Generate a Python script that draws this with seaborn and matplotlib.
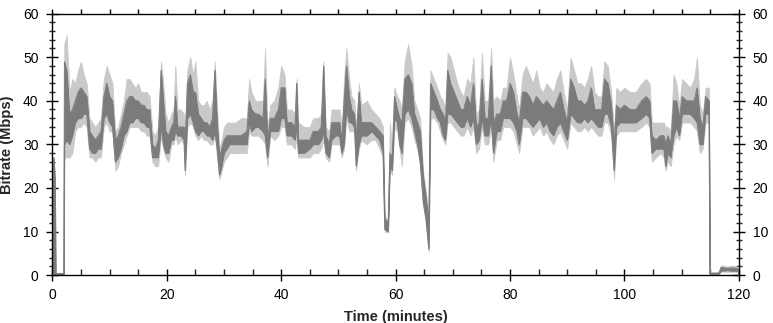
import numpy as np
import pandas as pd
import matplotlib
matplotlib.use("Agg")
import matplotlib.pyplot as plt
from matplotlib.ticker import MultipleLocator, NullFormatter
import seaborn as sns

# time in minutes and band limits (Mbps)
t = [0.0, 0.25, 0.45, 0.6, 2.0, 2.1, 2.5, 3.0, 3.5, 4.0, 4.5, 5.0, 5.5, 6.0, 6.5, 7.0, 7.5, 8.0, 8.5,
     9.0, 9.5, 10.0, 10.5, 11.0, 11.5, 12.0, 12.5, 13.0, 13.5, 14.0, 14.5, 15.0, 15.5, 16.0, 16.5,
     17.0, 17.5, 18.0, 18.5, 19.0, 19.4, 19.8, 20.3, 20.8, 21.2, 21.5, 21.9, 22.5, 23.0, 23.2, 23.6,
     24.1, 24.6, 25.0, 25.5, 26.0, 26.5, 27.0, 27.5, 28.0, 28.4, 28.8, 29.2, 29.6, 30.0, 30.5, 31.0,
     32.0, 33.0, 34.0, 34.4, 34.8, 35.5, 36.0, 36.8, 37.2, 37.6, 38.1, 38.8, 39.5, 40.0, 40.6, 41.0,
     41.8, 42.4, 42.7, 43.0, 44.0, 45.0, 45.6, 46.5, 47.0, 47.4, 47.8, 48.4, 48.8, 49.5, 50.2, 50.6,
     51.0, 51.4, 51.9, 52.3, 52.8, 53.1, 53.6, 54.0, 55.0, 55.8, 56.5, 57.2, 57.8, 58.1, 58.7, 59.0,
     59.4, 59.8, 60.3, 60.7, 61.1, 61.6, 62.2, 62.8, 63.3, 63.8, 64.3, 64.8, 65.3, 65.8, 66.1, 66.7,
     67.3, 67.8, 68.3, 68.7, 69.1, 69.6, 70.2, 70.8, 71.4, 71.9, 72.5, 73.1, 73.6, 74.1, 74.6, 75.1,
     75.6, 76.2, 76.7, 77.1, 77.7, 78.3, 78.8, 79.4, 80.0, 80.6, 81.2, 81.6, 82.2, 82.8, 83.4, 84.0,
     84.6, 85.2, 85.8, 86.4, 87.0, 87.6, 88.2, 88.8, 89.4, 90.0, 90.6, 91.2, 91.8, 92.4, 93.0, 93.6,
     94.2, 94.8, 95.4, 96.0, 96.5, 97.1, 97.7, 98.2, 98.6, 99.2, 100.0, 101.0, 102.0, 103.0, 103.8,
     104.4, 104.8, 105.5, 106.3, 106.9, 107.2, 107.6, 108.1, 108.6, 109.1, 109.6, 110.1, 110.8,
     111.5, 112.2, 112.7, 113.2, 113.7, 114.2, 114.8, 114.95, 116.5, 116.9, 118.0, 119.0, 119.8, 120.1]

dark_lo = [0, 0, 0, 0.2, 0.2, 30, 31, 30, 32, 35, 36, 36, 37, 37, 29, 28, 28, 29, 29,
           36, 37, 35, 34, 26, 27, 29, 32, 33, 35, 35, 36, 36, 35, 35, 34,
           34, 27, 27, 27, 34, 30, 28, 28, 31, 31, 33, 32, 32, 31, 24, 36,
           37, 35, 33, 32, 33, 33, 32, 32, 31, 33, 29, 23, 25, 28, 29, 30,
           30, 30, 30, 35, 33, 34, 34, 33, 32, 27, 33, 33, 33, 36, 36, 32,
           32, 31, 34, 28, 28, 29, 30, 30, 31, 33, 28, 27, 31, 32, 32, 28,
           30, 38, 35, 35, 34, 25, 30, 32, 32, 33, 32, 31, 28, 10.5, 10, 25,
           24, 36, 35, 30, 28, 37, 38, 36, 33, 30, 26, 17, 13, 6, 38, 38,
           36, 35, 32, 31, 37, 37, 36, 35, 34, 34, 36, 34, 36, 30, 31, 36,
           32, 32, 36, 28, 33, 33, 36, 36, 36, 35, 33, 30, 36, 36, 35, 34,
           35, 36, 34, 35, 33, 32, 34, 35, 33, 31, 37, 36, 35, 35, 36, 35,
           36, 35, 34, 34, 37, 37, 34, 24, 34, 35, 35, 35, 35, 36, 37,
           36, 28, 29, 29, 29, 25, 28, 27, 32, 34, 32, 37, 37,
           37, 36, 35, 30, 30, 37, 37, 0.3, 0.3, 1.0, 1.1, 1.0, 1.0, 0]

dark_hi = [0, 27, 22, 0.4, 0.4, 49, 47, 37, 38, 40, 42, 43, 42, 41, 33, 32, 31, 32, 33,
           41, 44, 41, 40, 31, 32, 34, 37, 40, 41, 41, 40, 40, 39, 39, 38,
           38, 30, 29, 31, 47, 40, 33, 32, 34, 35, 41, 34, 34, 34, 30, 44,
           46, 42, 42, 37, 36, 35, 35, 34, 36, 47, 35, 27, 29, 31, 32, 32,
           32, 32, 33, 40, 38, 37, 37, 36, 45, 31, 36, 36, 38, 43, 43, 35,
           35, 34, 44, 31, 31, 31, 33, 33, 34, 48, 32, 30, 35, 35, 35, 31,
           40, 48, 41, 38, 37, 31, 42, 35, 35, 35, 34, 33, 32, 13, 12, 28,
           27, 41, 38, 36, 35, 45, 46, 44, 37, 35, 33, 23, 18, 12, 44, 42,
           40, 38, 37, 35, 47, 44, 42, 40, 38, 38, 41, 39, 44, 34, 35, 45,
           36, 36, 48, 35, 37, 37, 40, 40, 44, 42, 37, 35, 42, 42, 41, 39,
           41, 40, 39, 40, 39, 38, 40, 42, 38, 35, 45, 43, 40, 40, 39, 40,
           43, 38, 38, 38, 45, 44, 39, 30, 39, 38, 39, 38, 38, 40, 41,
           40, 32, 31, 32, 32, 30, 32, 30, 40, 40, 36, 41, 40,
           40, 40, 43, 36, 34, 41, 40, 0.5, 0.5, 1.8, 1.6, 1.7, 1.5, 0]

light_lo = [0, 0, 0, 0, 0, 27, 27, 27, 28, 33, 34, 34, 35, 34, 27, 27, 26, 27, 27,
            34, 35, 33, 33, 24, 25, 28, 30, 32, 34, 34, 34, 34, 33, 33, 32,
            32, 26, 25, 25, 32, 29, 27, 26, 30, 30, 32, 30, 31, 30, 23, 34,
            35, 34, 32, 31, 32, 31, 31, 30, 30, 32, 27, 22, 24, 26, 27, 28,
            28, 28, 28, 33, 32, 32, 32, 31, 30, 25, 32, 31, 32, 34, 34, 30,
            30, 29, 32, 27, 27, 27, 28, 28, 29, 31, 27, 26, 30, 30, 30, 27,
            29, 36, 33, 33, 33, 24, 29, 31, 30, 31, 31, 29, 27, 10, 9.8, 24,
            23, 34, 33, 29, 25, 35, 36, 34, 31, 29, 25, 16, 12, 5.5, 36, 36,
            35, 33, 31, 30, 35, 35, 34, 33, 32, 32, 34, 32, 34, 28, 29, 34,
            30, 30, 34, 26, 31, 31, 34, 34, 34, 33, 30, 28, 34, 34, 34, 32,
            33, 34, 32, 33, 31, 30, 32, 33, 31, 29, 35, 34, 33, 33, 34, 33,
            34, 33, 32, 32, 35, 35, 32, 22, 32, 33, 33, 33, 33, 34, 35,
            34, 26, 27, 28, 27, 24, 26, 25, 30, 32, 31, 35, 35,
            35, 34, 33, 28, 29, 35, 35, 0.2, 0.2, 0.8, 0.8, 0.8, 0.8, 0]

light_hi = [0, 27, 22, 0.5, 0.5, 53, 55, 42, 45, 44, 47, 49, 46, 44, 36, 35, 34, 35, 36,
            45, 48, 46, 44, 33, 34, 37, 40, 45, 45, 44, 43, 44, 42, 42, 42,
            41, 33, 32, 34, 49, 44, 37, 35, 37, 38, 48, 38, 38, 37, 33, 47,
            50, 46, 49, 40, 39, 39, 40, 38, 40, 49, 38, 29, 31, 34, 35, 35,
            35, 36, 36, 45, 42, 40, 40, 40, 52, 34, 39, 40, 43, 48, 46, 38,
            38, 37, 45, 35, 34, 34, 36, 36, 37, 49, 34, 33, 38, 38, 38, 34,
            45, 52, 45, 41, 40, 33, 44, 39, 40, 38, 37, 36, 34, 13.5, 12.5, 35,
            29, 43, 41, 40, 38, 49, 53, 48, 40, 38, 36, 24, 19, 13, 47, 45,
            43, 41, 40, 38, 51, 50, 47, 44, 42, 41, 45, 44, 50, 37, 38, 51,
            40, 40, 52, 40, 41, 40, 43, 43, 50, 46, 41, 38, 46, 48, 46, 44,
            47, 43, 42, 44, 43, 42, 45, 47, 42, 38, 50, 47, 44, 44, 43, 45,
            48, 42, 41, 41, 49, 48, 42, 33, 43, 42, 43, 42, 42, 44, 45,
            44, 35, 35, 35, 35, 34, 34, 33, 46, 44, 39, 45, 44,
            43, 45, 50, 39, 37, 43, 43, 0.6, 0.6, 2.3, 2.0, 2.2, 1.9, 0]

x_ticks = [0, 20, 40, 60, 80, 100, 120]
y_ticks = [0, 10, 20, 30, 40, 50, 60]

df = pd.DataFrame({"t": t, "dark_lo": dark_lo, "dark_hi": dark_hi,
                   "light_lo": light_lo, "light_hi": light_hi})

sns.set_style("ticks")
plt.rcParams["font.family"] = ["Liberation Sans", "DejaVu Sans"]

LIGHT = "#c9c9c9"
DARK = "#7b7b7b"

fig = plt.figure(figsize=(7.73, 3.23), dpi=100)
ax = fig.add_axes([0.0677, 0.148, 0.888, 0.810])

ax.fill_between(df["t"], df["light_lo"], df["light_hi"], color=LIGHT, lw=0.6, edgecolor=LIGHT)
ax.fill_between(df["t"], df["dark_lo"], df["dark_hi"], color=DARK, lw=0.5, edgecolor=DARK)
sns.lineplot(data=df, x="t", y="dark_lo", color=DARK, lw=0.6, ax=ax)
sns.lineplot(data=df, x="t", y="dark_hi", color=DARK, lw=0.6, ax=ax)

ax.set_xlim(0, 120)
ax.set_ylim(0, 60)
ax.set_xticks(x_ticks)
ax.set_yticks(y_ticks)
ax.xaxis.set_minor_locator(MultipleLocator(5))
ax.yaxis.set_minor_locator(MultipleLocator(2))

for s in ax.spines.values():
    s.set_color("black")
    s.set_linewidth(1.0)

ax.tick_params(axis="y", which="major", direction="inout", length=8, width=1,
               left=True, right=True, labelleft=True, labelright=True,
               labelsize=10, pad=6, colors="black")
ax.tick_params(axis="y", which="minor", direction="inout", length=5, width=1,
               left=True, right=True)
ax.tick_params(axis="x", which="major", direction="inout", length=8, width=1,
               bottom=True, top=False, labelsize=10, pad=5, colors="black")
ax.tick_params(axis="x", which="minor", direction="in", length=4, width=1,
               bottom=True, top=False)

# top spine: short outward ticks every 5 minutes
top = ax.secondary_xaxis("top")
top.xaxis.set_major_locator(MultipleLocator(5))
top.xaxis.set_major_formatter(NullFormatter())
top.tick_params(axis="x", which="major", direction="out", length=3.5, width=1, colors="black")
top.spines["top"].set_visible(False)

ax.set_xlabel("Time (minutes)", fontsize=10.5, fontweight="bold", labelpad=6)
ax.set_ylabel("Bitrate (Mbps)", fontsize=10.5, fontweight="bold", labelpad=6)

fig.savefig("out.png", dpi=100, facecolor="white")
